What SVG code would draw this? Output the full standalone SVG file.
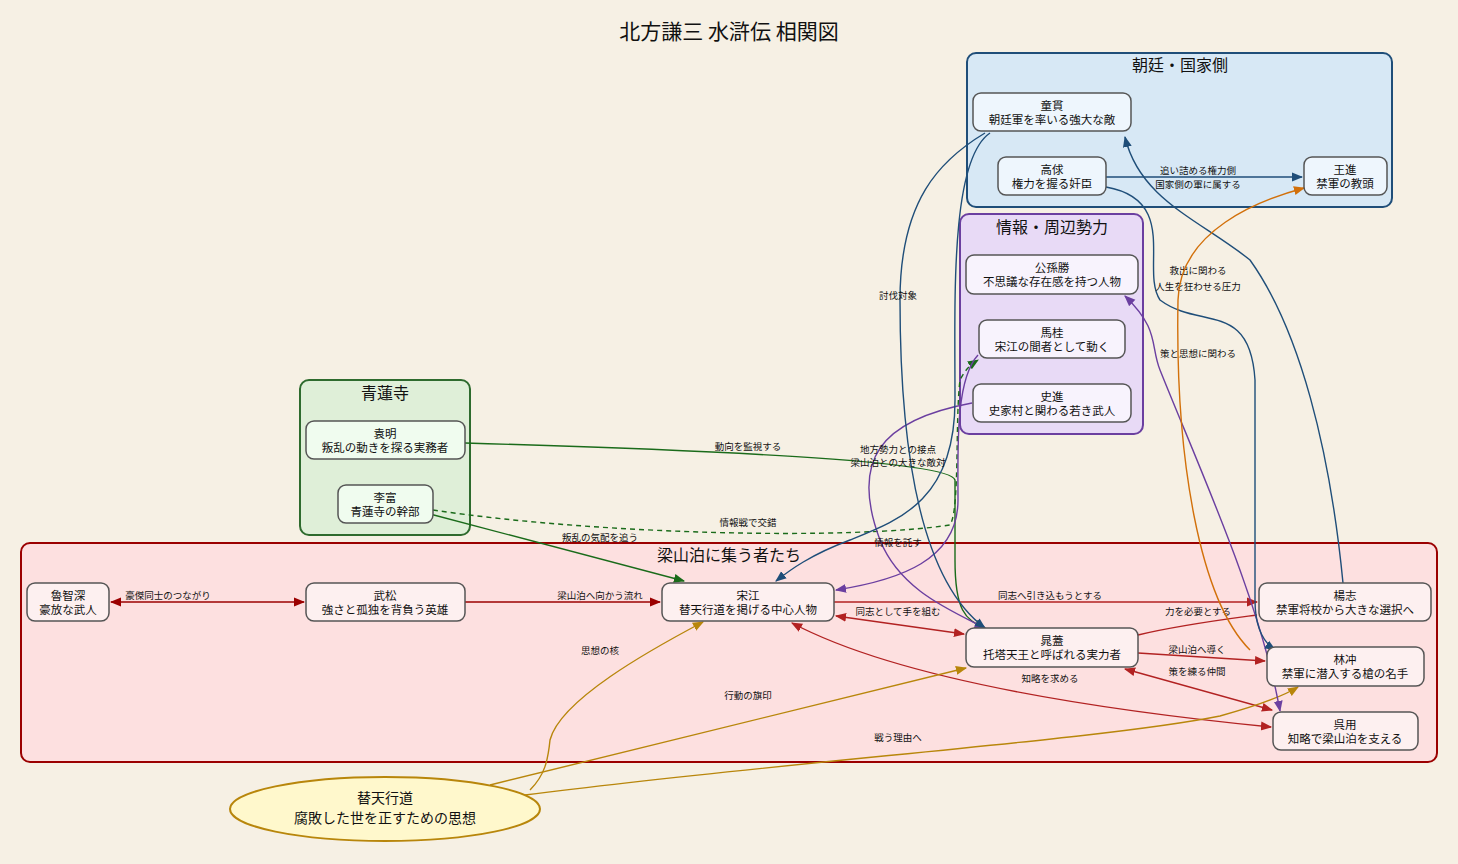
<svg xmlns="http://www.w3.org/2000/svg" width="1458" height="864" viewBox="0 0 1458 864">
<defs>
<style>
text{font-family:"Noto Sans CJK JP","Noto Sans CJK SC",sans-serif;text-anchor:middle;fill:#111}
.n{font-size:11.5px}.l{font-size:9.5px}.c{font-size:16px}
.node rect{stroke:#555;stroke-width:1.5}
.e{fill:none;stroke-width:1.4}
.r{stroke:#b22222}.dr{stroke:#9b0000}.g{stroke:#1a6b1a}.b{stroke:#1f4e79}.p{stroke:#6b3fa0}.o{stroke:#d2700a}.y{stroke:#b8860b}
</style>
<marker id="mr" viewBox="0 0 10 10" refX="9" refY="5" markerWidth="8" markerHeight="8" orient="auto-start-reverse"><path d="M0,1L10,5L0,9z" fill="#b22222"/></marker>
<marker id="mdr" viewBox="0 0 10 10" refX="9" refY="5" markerWidth="8" markerHeight="8" orient="auto-start-reverse"><path d="M0,1L10,5L0,9z" fill="#9b0000"/></marker>
<marker id="mg" viewBox="0 0 10 10" refX="9" refY="5" markerWidth="8" markerHeight="8" orient="auto-start-reverse"><path d="M0,1L10,5L0,9z" fill="#1a6b1a"/></marker>
<marker id="mb" viewBox="0 0 10 10" refX="9" refY="5" markerWidth="8" markerHeight="8" orient="auto-start-reverse"><path d="M0,1L10,5L0,9z" fill="#1f4e79"/></marker>
<marker id="mp" viewBox="0 0 10 10" refX="9" refY="5" markerWidth="8" markerHeight="8" orient="auto-start-reverse"><path d="M0,1L10,5L0,9z" fill="#6b3fa0"/></marker>
<marker id="mo" viewBox="0 0 10 10" refX="9" refY="5" markerWidth="8" markerHeight="8" orient="auto-start-reverse"><path d="M0,1L10,5L0,9z" fill="#d2700a"/></marker>
<marker id="my" viewBox="0 0 10 10" refX="9" refY="5" markerWidth="8" markerHeight="8" orient="auto-start-reverse"><path d="M0,1L10,5L0,9z" fill="#b8860b"/></marker>
</defs>
<rect width="1458" height="864" fill="#f6f0e4"/>
<text x="729" y="39" style="font-size:21px">北方謙三  水滸伝  相関図</text>

<g id="clusters">
<rect x="967" y="53" width="425" height="154" rx="9" fill="#d7e8f5" stroke="#1f4e79" stroke-width="2"/>
<text class="c" x="1180" y="71">朝廷・国家側</text>
<rect x="960" y="214" width="183" height="220" rx="9" fill="#e8daf6" stroke="#6b3fa0" stroke-width="2"/>
<text class="c" x="1052" y="233">情報・周辺勢力</text>
<rect x="300" y="380" width="170" height="155" rx="9" fill="#dfefd8" stroke="#2e6b2e" stroke-width="2"/>
<text class="c" x="385" y="399">青蓮寺</text>
<rect x="21" y="543" width="1416" height="219" rx="9" fill="#fde0e0" stroke="#9b0000" stroke-width="2"/>
<text class="c" x="729" y="561">梁山泊に集う者たち</text>
</g>

<g id="connectors">
<path class="e dr" d="M111,602H304" marker-start="url(#mdr)" marker-end="url(#mdr)"/>
<text class="l" x="168" y="599">豪傑同士のつながり</text>
<path class="e dr" d="M465,602H660" marker-end="url(#mdr)"/>
<text class="l" x="600" y="599">梁山泊へ向かう流れ</text>
<path class="e r" d="M834,602H1257" marker-end="url(#mr)"/>
<text class="l" x="1050" y="599">同志へ引き込もうとする</text>
<path class="e r" d="M836,616L964,634" marker-start="url(#mr)" marker-end="url(#mr)"/>
<text class="l" x="898" y="615">同志として手を組む</text>
<path class="e r" d="M1138,635C1180,625 1220,620 1257,615"/>
<text class="l" x="1198" y="615">力を必要とする</text>
<path class="e r" d="M1138,653L1265,661" marker-end="url(#mr)"/>
<text class="l" x="1197" y="653">梁山泊へ導く</text>
<path class="e r" d="M1125,669L1272,710" marker-start="url(#mr)" marker-end="url(#mr)"/>
<text class="l" x="1197" y="675">策を練る仲間</text>
<path class="e r" d="M792,623C900,680 1100,710 1271,727" marker-start="url(#mr)" marker-end="url(#mr)"/>
<text class="l" x="1050" y="682">知略を求める</text>

<path class="e y" d="M530,790C545,775 548,760 550,740C560,700 650,650 703,622" marker-end="url(#my)"/>
<text class="l" x="600" y="654">思想の核</text>
<path class="e y" d="M490,785L966,668" marker-end="url(#my)"/>
<text class="l" x="748" y="699">行動の旗印</text>
<path class="e y" d="M525,795C800,760 1100,740 1220,716C1260,705 1285,695 1298,687" marker-end="url(#my)"/>
<text class="l" x="898" y="741">戦う理由へ</text>

<path class="e g" d="M465,443C700,450 950,460 955,480V560C955,610 965,620 985,628" marker-end="url(#mg)"/>
<text class="l" x="748" y="450">動向を監視する</text>
<path class="e g" d="M430,514L684,581" marker-end="url(#mg)"/>
<text class="l" x="600" y="541">叛乱の気配を追う</text>
<path class="e g" d="M433,510C600,535 850,540 950,525C960,510 955,420 960,380C965,370 970,365 978,360" stroke-dasharray="5,4" marker-end="url(#mg)"/>
<text class="l" x="748" y="526">情報戦で交錯</text>

<path class="e p" d="M972,403C880,420 850,460 880,540C900,590 950,610 985,628" marker-end="url(#mp)"/>
<text class="l" x="898" y="453">地方勢力との接点</text>
<path class="e p" d="M1125,296C1160,330 1150,345 1160,370C1200,470 1260,600 1280,711" marker-start="url(#mp)" marker-end="url(#mp)"/>
<text class="l" x="1198" y="357">策と思想に関わる</text>
<path class="e p" d="M978,355C955,380 958,450 958,500C958,560 900,580 836,590" marker-end="url(#mp)"/>
<text class="l" x="898" y="546">情報を託す</text>

<path class="e b" d="M985,133C940,160 900,200 900,300C900,450 920,580 985,628" marker-end="url(#mb)"/>
<text class="l" x="898" y="299">討伐対象</text>
<path class="e b" d="M990,133C950,160 955,300 955,400C955,500 900,520 850,540C810,555 790,570 776,581" marker-end="url(#mb)"/>
<text class="l" x="898" y="466">梁山泊との大きな敵対</text>
<path class="e b" d="M1106,177H1302" marker-end="url(#mb)"/>
<text class="l" x="1198" y="174">追い詰める権力側</text>
<text class="l" x="1198" y="188">国家側の軍に属する</text>
<path class="e b" d="M1106,187C1180,200 1140,270 1160,300C1200,330 1250,300 1255,380V600C1255,620 1260,640 1275,650" marker-end="url(#mb)"/>
<text class="l" x="1198" y="274">救出に関わる</text>
<text class="l" x="1198" y="290">人生を狂わせる圧力</text>
<path class="e b" d="M1343,583C1330,450 1300,330 1250,260C1200,220 1140,200 1125,137" marker-end="url(#mb)"/>
<path class="e o" d="M1250,650C1200,600 1175,460 1178,300C1180,230 1260,200 1304,188" marker-end="url(#mo)"/>
</g>

<g id="n_doukan" class="node"><rect x="973" y="93" width="158" height="38" rx="8" fill="#eef6fd"/><text class="n" x="1052" y="110">童貫</text><text class="n" x="1052" y="124">朝廷軍を率いる強大な敵</text></g>
<g id="n_koukyu" class="node"><rect x="998" y="157" width="108" height="38" rx="8" fill="#eef6fd"/><text class="n" x="1052" y="174">高俅</text><text class="n" x="1052" y="188">権力を握る奸臣</text></g>
<g id="n_oushin" class="node"><rect x="1304" y="157" width="83" height="38" rx="8" fill="#eef6fd"/><text class="n" x="1345" y="174">王進</text><text class="n" x="1345" y="188">禁軍の教頭</text></g>
<g id="n_kousonshou" class="node"><rect x="966" y="255" width="172" height="39" rx="8" fill="#f8f3fd"/><text class="n" x="1052" y="272">公孫勝</text><text class="n" x="1052" y="286">不思議な存在感を持つ人物</text></g>
<g id="n_bakei" class="node"><rect x="979" y="320" width="146" height="38" rx="8" fill="#f8f3fd"/><text class="n" x="1052" y="337">馬桂</text><text class="n" x="1052" y="351">宋江の間者として動く</text></g>
<g id="n_shishin" class="node"><rect x="973" y="384" width="158" height="38" rx="8" fill="#f8f3fd"/><text class="n" x="1052" y="401">史進</text><text class="n" x="1052" y="415">史家村と関わる若き武人</text></g>
<g id="n_enmei" class="node"><rect x="306" y="421" width="159" height="38" rx="8" fill="#f0fcef"/><text class="n" x="385" y="438">袁明</text><text class="n" x="385" y="452">叛乱の動きを探る実務者</text></g>
<g id="n_rifu" class="node"><rect x="338" y="485" width="95" height="38" rx="8" fill="#f0fcef"/><text class="n" x="385" y="502">李富</text><text class="n" x="385" y="516">青蓮寺の幹部</text></g>
<g id="n_rochishin" class="node"><rect x="27" y="583" width="82" height="38" rx="8" fill="#fdf0f0"/><text class="n" x="68" y="600">魯智深</text><text class="n" x="68" y="614">豪放な武人</text></g>
<g id="n_busho" class="node"><rect x="306" y="583" width="159" height="38" rx="8" fill="#fdf0f0"/><text class="n" x="385" y="600">武松</text><text class="n" x="385" y="614">強さと孤独を背負う英雄</text></g>
<g id="n_soukou" class="node"><rect x="662" y="583" width="172" height="38" rx="8" fill="#fdf0f0"/><text class="n" x="748" y="600">宋江</text><text class="n" x="748" y="614">替天行道を掲げる中心人物</text></g>
<g id="n_youshi" class="node"><rect x="1259" y="583" width="172" height="38" rx="8" fill="#fdf0f0"/><text class="n" x="1345" y="600">楊志</text><text class="n" x="1345" y="614">禁軍将校から大きな選択へ</text></g>
<g id="n_chougai" class="node"><rect x="966" y="628" width="172" height="39" rx="8" fill="#fdf0f0"/><text class="n" x="1052" y="645">晁蓋</text><text class="n" x="1052" y="659">托塔天王と呼ばれる実力者</text></g>
<g id="n_rinchu" class="node"><rect x="1267" y="647" width="157" height="39" rx="8" fill="#fdf0f0"/><text class="n" x="1345" y="664">林冲</text><text class="n" x="1345" y="678">禁軍に潜入する槍の名手</text></g>
<g id="n_goyou" class="node"><rect x="1273" y="712" width="145" height="38" rx="8" fill="#fdf0f0"/><text class="n" x="1345" y="729">呉用</text><text class="n" x="1345" y="743">知略で梁山泊を支える</text></g>
<g id="n_taiten"><ellipse cx="385" cy="809" rx="155" ry="32" fill="#fff8cc" stroke="#b8860b" stroke-width="2"/><text x="385" y="803" style="font-size:14px">替天行道</text><text x="385" y="823" style="font-size:14px">腐敗した世を正すための思想</text></g>
</svg>
